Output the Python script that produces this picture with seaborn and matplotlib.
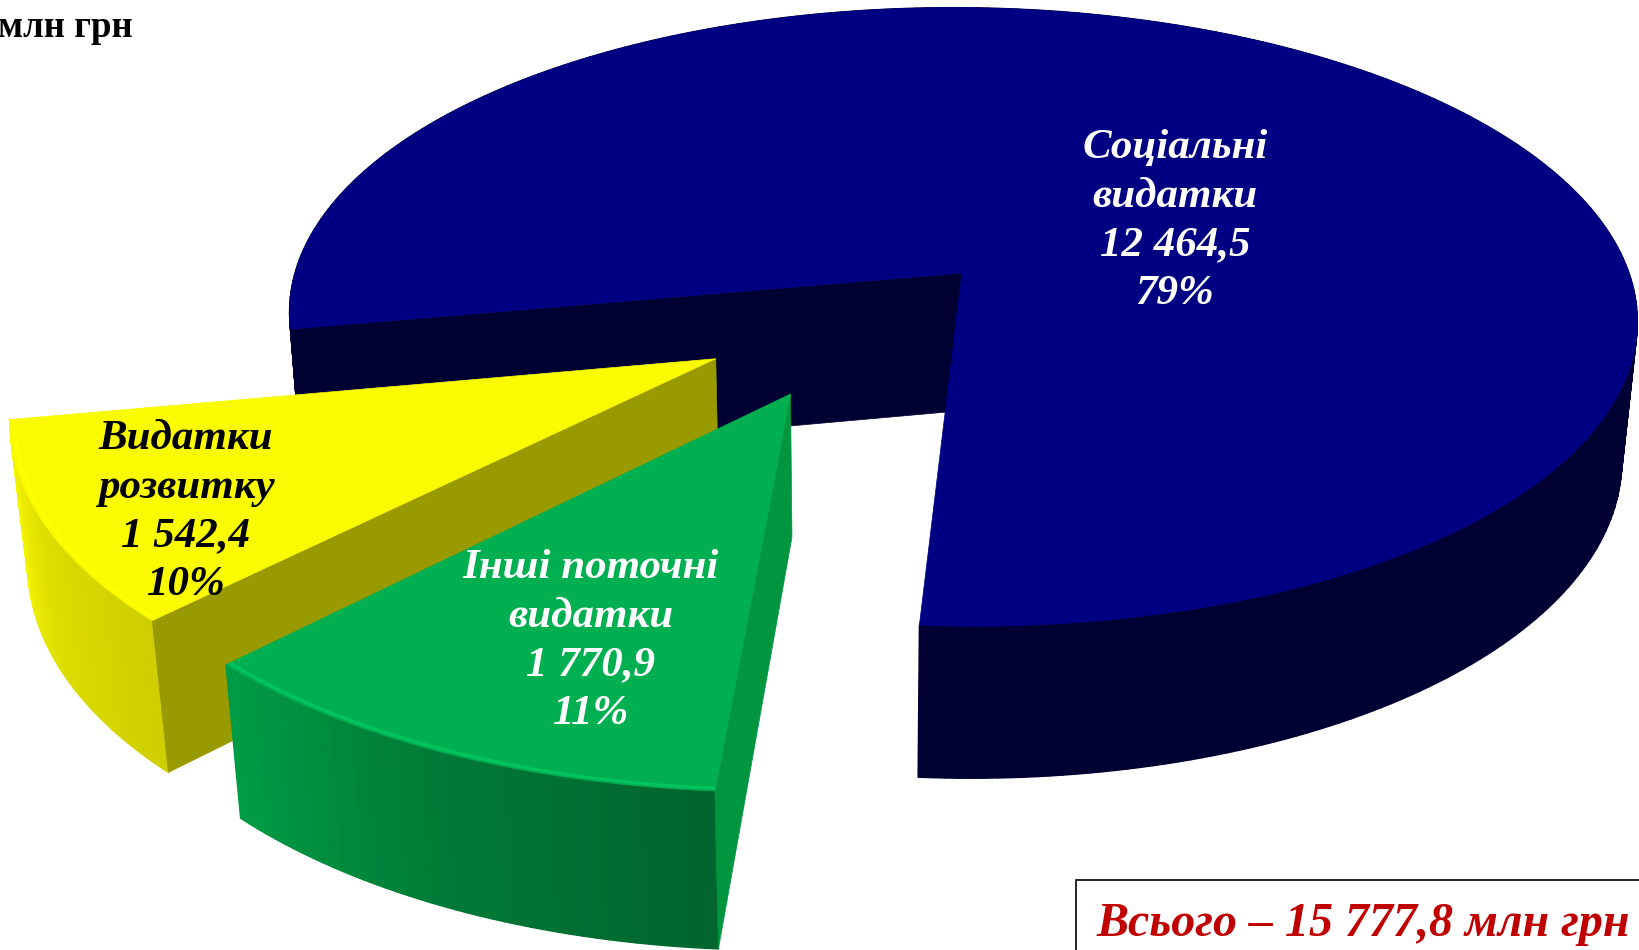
from matplotlib import pyplot as plt
from matplotlib.collections import PolyCollection
from matplotlib.patches import Polygon, Rectangle
import numpy as np
import seaborn as sns

# values, mln UAH
categories = ['Видатки\nрозвитку', 'Інші поточні\nвидатки', 'Соціальні\nвидатки']
values = [1542.4, 1770.9, 12464.5]
unit_label = 'млн грн'
total_label = 'Всього – 15 777,8 млн грн'

# look of each slice: top, radial side, outer side (left to right), arc highlight, text
top_colors = ['#FAFA00', '#00AF50', '#000082']
side_colors = ['#999900', '#00953F', '#000033']
wall_colors = [['#FFFF00', '#DEDE00', '#CFCF00'],
               ['#009C45', '#007A36', '#00652E'],
               ['#000033', '#000033', '#000033']]
edge_colors = ['#FFFF00', '#00C45E', '#000082']
text_colors = ['black', 'white', 'white']

# how far each slice is pulled out, in units of the pie radius
explode = [(-0.359, -0.272), (-0.249, -0.378), (0.0, 0.0)]
start_angle = 190.4

# perspective of the pie disc, in pixels of the 1640x950 picture
CX, CY = 962, 273
RX, RY = 667, 303
TILT, SINK, DEPTH, SHEAR, SLANT = 0.142, 0.02, 0.464, 0.015, 0.003


def project(x, y, z=0.0):
    """Pie plane to picture pixels, z=1 is the underside of the disc."""
    w = 1 + TILT * y + SINK * z
    return np.column_stack([CX + RX * (x - SHEAR * y - SLANT * z) / w, CY + RY * (DEPTH * z - y) / w])


def number_text(value):
    whole, frac = f'{value:.1f}'.split('.')
    if len(whole) > 3:
        whole = whole[:-3] + ' ' + whole[-3:]
    return whole + ',' + frac


def draw_slice(ax, theta1, theta2, offset, i):
    t = np.radians(np.linspace(theta1, theta2, int(theta2 - theta1) + 2))
    ox, oy = offset
    arc_x = ox + np.cos(t)
    arc_y = oy + np.sin(t)

    # outer side as strips so the shading can change along the arc
    up = project(arc_x, arc_y, 0)
    down = project(arc_x, arc_y, 1)
    shades = sns.blend_palette(wall_colors[i], len(t) - 1)
    ax.add_patch(Polygon(np.vstack([up, down[::-1]]), facecolor=shades[len(t) // 2], edgecolor='none'))
    strips = [[up[j], up[j + 1], down[j + 1], down[j]] for j in range(len(t) - 1)]
    ax.add_collection(PolyCollection(strips, facecolors=shades, edgecolors=shades, linewidths=1.0))

    # flat side showing towards the viewer
    ends_x = np.array([ox, ox + np.cos(t[-1])])
    ends_y = np.array([oy, oy + np.sin(t[-1])])
    up_side = project(ends_x, ends_y, 0)
    down_side = project(ends_x, ends_y, 1)
    ax.add_patch(Polygon([up_side[0], up_side[1], down_side[1], down_side[0]],
                         facecolor=side_colors[i], edgecolor=side_colors[i], linewidth=0.5))

    # top of the slice
    outline = np.vstack([project(np.array([ox]), np.array([oy])), up])
    ax.add_patch(Polygon(outline, facecolor=top_colors[i], edgecolor=top_colors[i], linewidth=0.5))
    rim = project(ox + 0.994 * np.cos(t), oy + 0.994 * np.sin(t))
    ax.plot(rim[:, 0], rim[:, 1], color=edge_colors[i], lw=2.2, solid_capstyle='butt')


sns.set_theme(style='white')
plt.rcParams['font.family'] = ['Liberation Serif', 'DejaVu Serif']

fig = plt.figure(figsize=(16.4, 9.5), dpi=100)
ax = fig.add_axes([0, 0, 1, 1])
ax.set_xlim(0, 1640)
ax.set_ylim(950, 0)
ax.axis('off')

# slices go counter-clockwise, the big one is painted first so the others sit over it
total = sum(values)
spans = [v / total * 360 for v in values]
starts = start_angle + np.cumsum([0] + spans[:-1])
for i in [2, 0, 1]:
    draw_slice(ax, starts[i], starts[i] + spans[i], explode[i], i)

label_xy = [(186, 512), (591, 641), (1175, 221)]
for i, name in enumerate(categories):
    share = round(values[i] / total * 100)
    text = f'{name}\n{number_text(values[i])}\n{share}%'
    ax.text(label_xy[i][0], label_xy[i][1], text, color=text_colors[i], fontsize=31,
            fontweight='bold', fontstyle='italic', ha='center', va='center',
            linespacing=1.36, zorder=10)

ax.text(133, 37, unit_label, color='black', fontsize=26.5, fontweight='bold',
        ha='right', va='baseline', zorder=10)

ax.add_patch(Rectangle((1076, 880), 600, 120, facecolor='white', edgecolor='black',
                       linewidth=1.2, zorder=9))
ax.text(1363, 936, total_label, color='#C00000', fontsize=34.6, fontweight='bold',
        fontstyle='italic', ha='center', va='baseline', zorder=10)

plt.savefig('out.png', dpi=100)
